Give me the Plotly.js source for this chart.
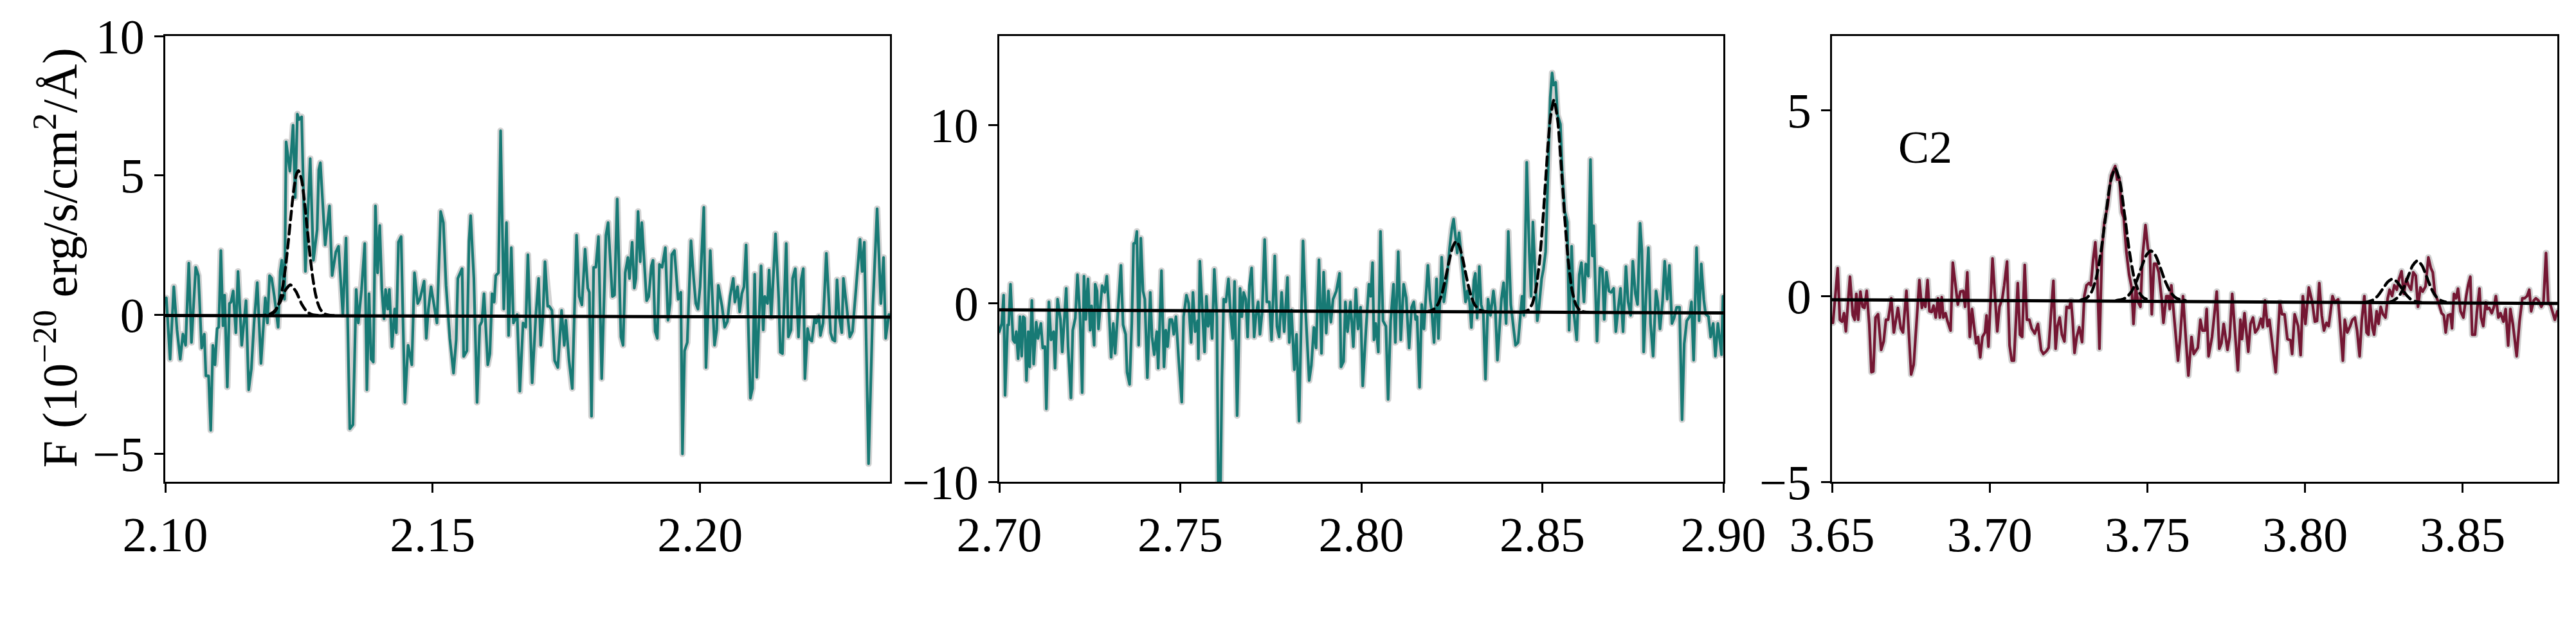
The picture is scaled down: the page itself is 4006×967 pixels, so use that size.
<!DOCTYPE html>
<html>
<head>
<meta charset="utf-8">
<script src="https://cdn.plot.ly/plotly-3.0.1.min.js"></script>
<style>
  html, body { margin: 0; padding: 0; background: #fff; }
  #chart { width: 4006px; height: 967px; }
  .js-plotly-plot .scatterlayer path.js-line { stroke-linejoin: round !important; stroke-linecap: round; }
</style>
</head>
<body>
<div id="chart"></div>
<script>
// ---------------- DATA ----------------
// Panel 1 spectrum [wavelength (um), flux]
const spec1 = [
[2.1002,0.6],[2.1009,-1.6],[2.1016,1.0],[2.1022,-0.55],[2.1028,-1.6],[2.1033,-0.7],[2.1038,-1.1],[2.1044,1.85],[2.1049,-1.0],[2.1057,1.7],
[2.1062,1.4],[2.1068,-1.2],[2.1073,-0.7],[2.1076,-2.2],[2.1081,-2.2],[2.1085,-4.15],[2.1089,-1.1],[2.1093,-1.8],[2.1097,-0.5],[2.1100,-0.45],
[2.1104,2.3],[2.1108,-0.4],[2.1111,0.7],[2.1116,-2.6],[2.1120,0.4],[2.1123,0.45],[2.1127,0.85],[2.1132,-0.65],[2.1136,1.55],[2.1143,-1.1],
[2.1151,0.5],[2.1156,-2.7],[2.1161,-1.95],[2.1166,-0.3],[2.1172,1.15],[2.1179,-1.75],[2.1187,0.6],[2.1191,-0.3],[2.1195,1.4],[2.1199,1.3],
[2.1204,0.65],[2.1211,-0.45],[2.1215,1.55],[2.1218,1.95],[2.1223,0.55],[2.1226,6.2],[2.1233,5.15],[2.1239,6.8],[2.1243,4.2],[2.1247,7.2],
[2.1250,7.0],[2.1255,7.1],[2.1262,1.55],[2.1271,5.6],[2.1277,1.95],[2.1284,3.05],[2.1287,5.2],[2.1290,5.45],[2.1299,2.5],[2.1307,3.9],
[2.1312,1.4],[2.1319,2.25],[2.1324,2.45],[2.1332,0.0],[2.1338,2.75],[2.1345,-4.1],[2.1351,-3.95],[2.1357,0.9],[2.1361,-0.3],[2.1367,0.9],
[2.1373,2.55],[2.1377,-2.7],[2.1381,0.75],[2.1385,-1.6],[2.1389,-1.7],[2.1393,3.9],[2.1397,1.5],[2.1401,3.2],[2.1405,0.9],[2.1409,-0.15],
[2.1412,0.9],[2.1416,0.2],[2.1419,0.9],[2.1424,-1.15],[2.1429,0.2],[2.1432,-0.65],[2.1436,2.6],[2.1441,2.8],[2.1448,-3.15],[2.1454,-1.1],
[2.1461,-1.8],[2.1466,1.5],[2.1472,0.4],[2.1476,0.55],[2.1481,0.95],[2.1484,1.2],[2.1488,-0.85],[2.1492,0.2],[2.1497,1.0],[2.1501,0.55],
[2.1508,-0.3],[2.1515,3.7],[2.1520,3.3],[2.1525,1.05],[2.1532,-0.85],[2.1539,-2.1],[2.1544,-0.9],[2.1547,1.3],[2.1555,1.65],[2.1558,-1.5],
[2.1564,-1.3],[2.1568,2.65],[2.1571,3.55],[2.1577,1.3],[2.1583,-3.15],[2.1588,-0.4],[2.1592,-0.25],[2.1596,0.75],[2.1603,-1.8],[2.1607,-1.4],
[2.1611,0.75],[2.1615,0.45],[2.1618,1.4],[2.1623,1.5],[2.1627,6.6],[2.1633,0.2],[2.1638,3.3],[2.1642,-0.75],[2.1647,2.4],[2.1651,-0.3],
[2.1658,0.0],[2.1663,-2.75],[2.1669,-0.3],[2.1674,-0.45],[2.1678,2.15],
[2.1686,-2.45],[2.1693,0.0],[2.1698,1.3],[2.1702,-1.1],[2.1706,-0.1],[2.1710,1.9],[2.1715,0.3],[2.1718,0.3],[2.1723,0.15],[2.1728,-1.65],
[2.1734,-1.9],[2.1741,0.15],[2.1746,-1.1],[2.1749,-0.2],[2.1755,-1.65],[2.1761,-2.65],[2.1769,2.85],[2.1774,0.65],[2.1779,0.35],[2.1785,2.35],
[2.1790,0.95],[2.1793,0.8],[2.1797,-3.65],[2.1801,1.7],[2.1805,1.7],[2.1810,2.8],[2.1816,-2.3],[2.1824,2.85],[2.1828,3.3],[2.1836,0.65],
[2.1840,0.7],[2.1845,4.15],[2.1852,-0.8],[2.1856,-1.1],[2.1860,1.5],[2.1865,2.05],[2.1868,1.3],[2.1873,2.6],[2.1877,0.95],[2.1880,1.3],
[2.1884,3.7],[2.1888,1.9],[2.1891,3.3],[2.1895,2.2],[2.1900,0.5],[2.1904,0.65],[2.1909,1.75],[2.1912,1.95],[2.1916,-0.6],[2.1920,-0.85],
[2.1924,1.8],[2.1929,1.7],[2.1935,2.4],[2.1940,-0.2],[2.1944,0.4],[2.1947,2.15],[2.1952,2.3],[2.1959,0.55],[2.1964,0.8],[2.1967,-5.0],
[2.1971,-1.3],[2.1976,-1.0],[2.1983,2.65],[2.1988,1.3],[2.1992,0.4],[2.1996,0.2],[2.2000,1.0],[2.2007,3.85],[2.2011,-1.9],[2.2019,2.3],
[2.2027,-1.1],[2.2031,-0.55],[2.2034,1.05],[2.2041,0.3],[2.2046,-0.45],[2.2051,-0.25],[2.2056,0.65],[2.2062,1.3],[2.2065,0.45],[2.2070,1.0],
[2.2074,0.1],[2.2078,0.75],[2.2082,1.0],[2.2086,2.5],[2.2094,-3.0],[2.2098,-2.65],[2.2102,1.45],[2.2106,-2.25],[2.2114,1.75],[2.2118,-0.55],
[2.2121,0.65],[2.2126,0.4],[2.2129,1.6],[2.2133,-0.1],[2.2141,2.9],[2.2147,0.6],[2.2150,-1.35],[2.2154,-1.4],[2.2161,2.55],[2.2165,-0.8],
[2.2170,-0.55],[2.2173,1.3],[2.2178,1.65],[2.2184,-0.8],[2.2189,1.25],[2.2193,1.65],[2.2196,-2.3],[2.2201,-0.5],[2.2205,-0.9],[2.2209,-0.95],
[2.2214,-0.15],[2.2217,-0.3],[2.2222,-0.05],[2.2225,-0.75],[2.2230,-0.3],[2.2236,2.2],[2.2244,-0.65],[2.2248,-0.9],[2.2252,-0.95],[2.2256,1.25],
[2.2260,-0.05],[2.2265,-0.65],[2.2268,1.3],[2.2274,0.3],[2.2280,-0.8],[2.2285,-0.6],[2.2292,0.95],[2.2299,2.7],[2.2303,1.55],[2.2307,2.6],
[2.2315,-5.35],[2.2323,0.3],[2.2331,3.8],[2.2338,0.4],[2.2343,2.05],[2.2347,-0.85],[2.2353,0.0]
];

// Panel 2 spectrum
const spec2 = [
[2.7000,-1.58],[2.7007,-1.12],[2.7012,0.47],[2.7016,-5.15],[2.7023,-1.2],[2.7026,-1.2],[2.7031,1.08],[2.7038,-2.04],[2.7043,-2.19],[2.7047,-1.58],
[2.7052,-3.1],[2.7057,-0.74],[2.7062,-2.95],[2.7066,-0.74],[2.7070,-0.82],[2.7075,-4.32],[2.7080,-1.58],[2.7084,-3.56],[2.7090,0.17],[2.7095,-3.4],
[2.7102,-1.05],[2.7107,-1.96],[2.7115,-1.12],[2.7120,-2.49],[2.7126,-2.42],[2.7130,-5.91],[2.7137,0.09],[2.7143,-2.04],[2.7150,-1.58],[2.7154,-3.63],
[2.7161,0.24],[2.7169,-0.9],[2.7174,-2.72],[2.7185,0.85],[2.7190,-2.42],[2.7198,-5.3],[2.7203,-1.5],[2.7210,-0.82],[2.7216,1.61],[2.7223,-0.67],
[2.7229,-5.0],[2.7234,1.53],[2.7239,-0.9],[2.7245,1.38],[2.7251,-1.5],[2.7255,-0.14],[2.7262,-2.34],[2.7265,1.08],[2.7270,0.7],[2.7274,-1.43],
[2.7284,1.0],[2.7291,0.62],[2.7297,1.53],[2.7302,-0.06],[2.7309,-3.02],[2.7315,-1.12],[2.7320,-2.8],[2.7329,-0.06],[2.7336,2.14],[2.7342,-1.2],
[2.7349,-1.73],[2.7353,-3.86],[2.7360,-4.54],[2.7366,-1.12],[2.7371,3.36],[2.7376,3.43],[2.7380,4.04],[2.7385,-2.34],[2.7391,3.66],[2.7397,0.7],
[2.7402,0.24],[2.7409,-4.16],[2.7417,0.62],[2.7422,-1.88],[2.7428,-2.87],[2.7435,-1.58],[2.7439,-3.63],[2.7448,1.84],[2.7455,-3.56],[2.7460,-1.5],
[2.7465,-2.42],[2.7471,-0.9],[2.7477,-0.9],[2.7482,-1.73],[2.7488,-0.74],[2.7495,-2.95],[2.7504,-5.53],[2.7509,-0.74],[2.7517,0.47],[2.7523,0.02],
[2.7530,-2.19],[2.7535,0.62],[2.7541,-1.58],[2.7548,-0.97],[2.7550,-3.1],[2.7554,2.37],[2.7561,-0.67],[2.7567,-2.72],[2.7572,0.4],[2.7577,-1.28],
[2.7583,-0.44],[2.7588,-1.96],[2.7594,1.91],[2.7601,-0.74],[2.7605,-10.5],[2.7611,-10.5],[2.7615,-4.24],[2.7620,0.24],[2.7626,0.09],[2.7633,1.38],
[2.7639,-0.67],[2.7645,-1.96],[2.7650,1.23],[2.7657,-6.29],[2.7665,0.85],[2.7670,-0.74],[2.7675,0.62],[2.7681,0.24],[2.7686,-1.88],[2.7691,1.0],
[2.7697,1.99],[2.7704,-1.88],[2.7709,-0.67],[2.7715,0.09],[2.7720,-1.73],[2.7726,-0.52],[2.7733,3.59],[2.7739,0.09],[2.7746,0.09],[2.7752,-2.04],
[2.7761,2.67],[2.7767,-1.28],[2.7773,-1.88],[2.7780,0.62],[2.7787,-1.58],[2.7796,1.46],[2.7801,-2.19],[2.7807,-0.36],[2.7815,-3.71],[2.7821,-1.73],
[2.7828,-6.6],[2.7834,-0.67],[2.7839,3.51],[2.7846,-0.36],[2.7851,-2.19],[2.7856,-4.32],[2.7862,-3.48],[2.7869,-1.35],[2.7875,-2.49],[2.7883,2.45],
[2.7890,-2.8],[2.7896,1.76],[2.7903,-1.66],[2.7909,0.7],[2.7916,-1.05],[2.7922,0.24],[2.7931,0.7],[2.7940,1.69],[2.7944,-3.56],[2.7951,-3.25],
[2.7956,0.09],[2.7962,-1.58],[2.7970,0.09],[2.7978,-2.42],[2.7985,0.78],[2.7991,-1.43],[2.7998,-0.21],[2.8004,-4.62],
[2.8013,-1.43],[2.8021,1.08],[2.8026,0.4],[2.8031,2.29],[2.8035,-2.04],[2.8040,-1.12],[2.8047,-2.72],[2.8053,4.04],[2.8060,-0.97],[2.8068,-1.28],
[2.8074,-5.38],[2.8081,-0.97],[2.8089,1.08],[2.8094,-2.19],[2.8102,2.9],[2.8109,-2.04],[2.8117,1.08],[2.8124,0.32],[2.8132,-2.49],[2.8139,-0.21],
[2.8145,0.09],[2.8150,-0.9],[2.8154,-0.74],[2.8161,-4.7],[2.8167,-0.06],[2.8173,-1.43],[2.8177,-0.06],[2.8184,2.14],[2.8190,0.24],[2.8195,-0.52],
[2.8201,-2.19],[2.8208,1.38],[2.8213,-1.96],[2.8222,2.6],[2.8228,0.09],[2.8236,1.31],[2.8244,3.13],[2.8250,4.19],[2.8255,4.73],[2.8261,3.43],
[2.8265,2.83],[2.8270,3.97],[2.8276,2.83],[2.8283,1.16],[2.8288,0.09],[2.8293,0.7],[2.8299,0.09],[2.8304,-1.35],[2.8311,1.31],[2.8315,1.69],
[2.8320,-0.82],[2.8326,2.07],[2.8331,-0.06],[2.8337,-0.52],[2.8343,-4.24],[2.8350,0.24],[2.8357,-0.67],[2.8365,0.7],[2.8370,-0.21],[2.8376,-3.18],
[2.8387,0.24],[2.8393,1.16],[2.8400,-1.12],[2.8406,4.04],[2.8413,-0.06],[2.8419,-1.12],[2.8426,-2.34],[2.8433,-2.19],[2.8439,-0.9],[2.8444,0.4],
[2.8449,-0.67],[2.8457,7.92],[2.8464,2.9],[2.8469,0.4],[2.8474,4.57],[2.8481,0.85],[2.8486,-0.97],[2.8491,-0.21],[2.8498,1.38],[2.8503,1.91],
[2.8509,2.9],[2.8516,7.39],[2.8522,11.57],[2.8527,12.93],[2.8531,12.25],[2.8537,12.4],[2.8542,10.58],[2.8550,10.05],[2.8555,7.39],[2.8562,5.18],
[2.8569,4.57],[2.8574,-1.5],[2.8581,3.21],[2.8587,-0.52],[2.8595,-2.04],[2.8602,1.61],[2.8608,2.29],[2.8615,0.09],[2.8620,2.22],[2.8627,1.53],
[2.8633,8.07],[2.8638,2.67],[2.8642,4.35],[2.8646,1.31],[2.8651,-2.11],[2.8659,1.99],[2.8666,1.91],[2.8671,-0.9],[2.8677,1.76],[2.8684,0.7],
[2.8690,0.62],[2.8697,0.85],[2.8703,-1.58],[2.8710,-0.21],[2.8716,0.85],[2.8723,-1.58],[2.8731,2.07],[2.8737,0.09],[2.8744,-0.67],[2.8750,2.37],
[2.8757,0.55],[2.8763,-0.06],[2.8770,4.5],[2.8775,2.98],[2.8780,-2.72],[2.8786,0.17],[2.8793,3.13],[2.8799,-1.12],[2.8806,-2.95],[2.8814,0.7],
[2.8819,0.09],[2.8825,-1.43],[2.8832,0.09],[2.8838,2.37],[2.8845,0.24],[2.8851,2.14],[2.8858,-1.12],[2.8864,-0.82],[2.8871,-0.21],[2.8879,-0.21],
[2.8886,-6.52],[2.8892,-2.26],[2.8899,-0.97],[2.8907,-0.74],[2.8912,0.09],[2.8918,-3.18],[2.8926,3.13],[2.8933,-0.97],[2.8939,2.22],[2.8946,0.24],
[2.8951,-0.59],[2.8959,-0.74],[2.8965,-1.88],[2.8972,-1.12],[2.8978,-2.95],[2.8985,-1.12],[2.8995,-2.87],[2.8999,0.4]
];

// Panel 3 spectrum
const spec3 = [
[3.6503,-0.72],[3.6518,0.75],[3.6525,-0.64],[3.6532,-0.69],[3.6538,-0.46],[3.6544,-0.95],[3.6557,0.52],[3.6566,-0.52],[3.6572,-0.64],[3.6577,0.06],
[3.6583,-0.64],[3.6590,0.12],[3.6597,-0.29],[3.6603,-0.32],[3.6610,0.14],[3.6618,-0.75],[3.6625,-2.05],[3.6631,-2.03],[3.6638,-0.58],[3.6646,-0.49],
[3.6656,-1.45],[3.6664,-1.22],[3.6671,-0.64],[3.6678,-0.64],[3.6688,-0.06],[3.6696,-0.98],[3.6703,-0.64],[3.6709,-0.32],[3.6718,-0.87],[3.6725,-0.98],
[3.6736,0.14],[3.6751,-2.11],[3.6759,-1.85],[3.6767,-0.75],[3.6777,0.43],[3.6785,-0.32],[3.6790,-0.09],[3.6796,-0.29],[3.6803,0.43],[3.6809,-0.41],
[3.6816,-0.43],[3.6822,-0.26],[3.6829,-0.58],[3.6836,-0.06],[3.6842,-0.58],[3.6848,-0.03],[3.6853,-0.58],[3.6860,-0.46],[3.6866,-0.67],[3.6876,-0.93],
[3.6883,0.9],[3.6899,-0.23],[3.6907,0.12],[3.6916,0.14],[3.6922,-0.29],[3.6929,0.64],[3.6937,-1.1],[3.6944,-0.35],[3.6950,-0.81],[3.6957,-1.27],
[3.6963,-1.1],[3.6970,-1.65],[3.6977,-1.1],[3.6985,-0.98],[3.6990,-0.52],[3.6996,-1.36],[3.7009,1.01],[3.7018,-0.35],[3.7024,-0.95],[3.7031,-0.29],
[3.7040,-0.06],[3.7046,0.29],[3.7055,0.93],[3.7063,-1.33],[3.7070,-1.74],[3.7077,-1.74],[3.7089,0.35],[3.7096,-1.04],[3.7103,-1.1],[3.7111,0.84],
[3.7118,-0.64],[3.7126,-0.64],[3.7133,-0.87],[3.7143,-1.01],[3.7153,-0.75],[3.7163,-1.45],[3.7170,-1.56],[3.7180,-1.48],[3.7187,-1.39],[3.7195,-0.41],
[3.7202,0.41],[3.7209,-1.42],[3.7215,-0.81],[3.7222,-0.58],[3.7229,-1.04],[3.7237,-1.22],[3.7244,-0.29],[3.7252,-0.32],[3.7258,-0.12],[3.7263,-0.64],
[3.7269,-1.53],[3.7276,-1.1],[3.7284,-0.84],[3.7293,-1.24],[3.7300,0.0],[3.7307,0.29],[3.7315,0.35],[3.7321,0.29],[3.7328,0.98],[3.7335,1.45],
[3.7341,0.58],[3.7348,-1.42],[3.7356,1.22],[3.7363,1.97],[3.7374,2.43],[3.7385,3.24],[3.7393,3.41],[3.7398,3.5],[3.7404,3.13],[3.7411,3.18],
[3.7419,2.26],[3.7425,2.11],[3.7433,1.22],[3.7442,0.58],[3.7450,0.23],[3.7456,-0.75],[3.7463,0.23],[3.7471,-0.17],[3.7478,-0.29],[3.7485,1.1],
[3.7494,1.91],[3.7502,1.27],[3.7508,1.16],[3.7514,-0.49],[3.7521,0.87],[3.7528,0.87],[3.7536,0.64],[3.7545,-0.06],[3.7551,-0.72],[3.7560,0.0],
[3.7567,0.0],[3.7571,-0.35],[3.7576,0.29],[3.7583,-0.46],[3.7597,-1.74],[3.7604,-1.1],[3.7613,0.0],[3.7623,-1.27],[3.7630,-2.14],[3.7640,-1.1],
[3.7647,-1.56],[3.7660,-1.39],[3.7668,-0.64],[3.7675,-0.93],[3.7683,-0.93],[3.7688,-0.35],[3.7694,-1.62],[3.7705,-1.1],[3.7720,0.12],[3.7728,-1.42],
[3.7735,-1.27],[3.7742,-0.75],[3.7754,-1.45],[3.7761,-1.1],[3.7769,0.06],[3.7780,-1.22],[3.7787,-2.0],[3.7795,-0.64],[3.7800,-1.16],[3.7808,-0.46],
[3.7820,-1.5],[3.7827,-0.75],[3.7835,-0.58],[3.7842,-0.98],[3.7851,-0.87],[3.7860,-0.61],[3.7866,-0.84],[3.7873,-0.12],[3.7881,-0.81],[3.7887,-0.64],
[3.7896,-1.33],[3.7907,-2.05],[3.7920,-0.17],[3.7927,-0.49],[3.7935,-0.49],[3.7944,-1.16],[3.7954,-1.19],[3.7959,-1.56],[3.7967,-0.49],[3.7978,-0.81],
[3.7986,-1.59],[3.7993,0.0],[3.8001,-0.75],[3.8012,0.23],[3.8023,-0.17],[3.8031,-0.69],[3.8038,-0.67],[3.8045,0.35],[3.8053,-0.52],[3.8060,-0.93],
[3.8068,-0.72],[3.8075,-0.81],[3.8087,0.0],[3.8094,-0.17],[3.8105,-0.09],[3.8113,-0.98],[3.8120,-1.74],[3.8126,-0.64],[3.8134,-0.98],[3.8143,-0.81],
[3.8150,-0.64],[3.8158,-0.58],[3.8165,-0.93],[3.8173,-1.62],[3.8180,-0.64],[3.8188,0.0],[3.8195,-0.98],[3.8201,-1.04],[3.8206,-0.17],[3.8214,-0.87],
[3.8219,-1.04],[3.8227,-0.41],[3.8233,-0.75],[3.8240,-0.29],[3.8247,-0.49],[3.8255,-0.58],[3.8262,-0.06],[3.8268,0.17],[3.8276,0.0],[3.8283,0.29],
[3.8291,0.17],[3.8298,0.46],[3.8306,0.67],[3.8313,0.06],[3.8321,0.46],[3.8328,0.29],[3.8336,0.17],[3.8343,0.64],[3.8351,0.55],[3.8358,-0.29],
[3.8366,0.23],[3.8373,0.12],[3.8382,0.26],[3.8391,1.04],[3.8399,0.75],[3.8405,0.64],[3.8412,0.06],[3.8423,-0.17],[3.8433,-0.46],[3.8440,-0.52],
[3.8446,-0.98],[3.8453,-0.52],[3.8461,-0.49],[3.8466,-0.87],[3.8472,0.06],[3.8479,-0.06],[3.8485,0.2],[3.8493,-0.41],[3.8502,-0.58],[3.8511,0.0],
[3.8517,0.29],[3.8524,0.52],[3.8530,-1.04],[3.8539,-1.04],[3.8545,-0.41],[3.8553,0.2],[3.8558,-0.58],[3.8565,-0.81],[3.8573,-0.17],[3.8578,-0.35],
[3.8584,-0.32],[3.8592,-0.46],[3.8599,-0.29],[3.8605,0.0],[3.8613,-0.58],[3.8620,-0.46],[3.8629,-0.69],[3.8636,-0.35],[3.8644,-1.33],[3.8651,-0.35],
[3.8659,-0.75],[3.8671,-1.62],[3.8680,-0.69],[3.8689,-0.06],[3.8696,-0.06],[3.8704,0.0],[3.8711,0.17],[3.8717,-0.41],[3.8725,-0.12],[3.8732,-0.06],
[3.8740,-0.12],[3.8749,-0.29],[3.8756,-0.17],[3.8764,1.16],[3.8771,-0.17],[3.8779,-0.26],[3.8786,-0.46],[3.8792,-0.64],[3.8800,-0.41]
];

// Continuum levels [wavelength, flux]
const cont1 = [[2.100,-0.03],[2.2355,-0.09]];
const cont2 = [[2.700,-0.36],[2.900,-0.53]];
const cont3 = [[3.650,-0.10],[3.880,-0.20]];

// Fitted line components (dashed)
const model1a = [[2.1170,-0.03],[2.1180,-0.03],[2.1190,-0.02],[2.1200,0.03],[2.1205,0.11],[2.1210,0.27],[2.1215,0.56],[2.1220,1.04],[2.1225,1.73],[2.1230,2.60],[2.1235,3.56],[2.1240,4.44],[2.1245,5.02],[2.1249,5.17],[2.1255,4.83],[2.1260,4.11],[2.1265,3.18],[2.1270,2.24],[2.1275,1.43],[2.1280,0.82],[2.1285,0.42],[2.1290,0.19],[2.1295,0.07],[2.1300,0.01],[2.1310,-0.03],[2.1320,-0.03]];
const model1b = [[2.1170,-0.03],[2.1180,-0.03],[2.1195,0.01],[2.1205,0.14],[2.1215,0.46],[2.1225,0.89],[2.1234,1.07],[2.1245,0.81],[2.1255,0.38],[2.1265,0.10],[2.1275,0.00],[2.1290,-0.03],[2.1310,-0.03]];
const model2a = [[2.8177,-0.46],[2.8192,-0.41],[2.8202,-0.29],[2.8212,-0.03],[2.8222,0.50],[2.8232,1.33],[2.8242,2.32],[2.8252,3.15],[2.8262,3.49],[2.8272,3.15],[2.8282,2.32],[2.8292,1.33],[2.8302,0.50],[2.8312,-0.03],[2.8322,-0.29],[2.8332,-0.41],[2.8347,-0.46]];
const model2b = [[2.8437,-0.49],[2.8452,-0.45],[2.8462,-0.35],[2.8472,-0.03],[2.8482,0.75],[2.8492,2.31],[2.8502,4.78],[2.8512,7.79],[2.8522,10.37],[2.8532,11.41],[2.8542,10.37],[2.8552,7.79],[2.8562,4.78],[2.8572,2.31],[2.8582,0.75],[2.8592,-0.03],[2.8602,-0.35],[2.8612,-0.45],[2.8627,-0.49]];
const model3a = [[3.7288,-0.11],[3.7308,-0.05],[3.7323,0.11],[3.7338,0.49],[3.7353,1.20],[3.7368,2.17],[3.7383,3.07],[3.7398,3.44],[3.7413,3.07],[3.7428,2.17],[3.7443,1.20],[3.7458,0.49],[3.7473,0.11],[3.7488,-0.05],[3.7508,-0.11]];
const model3b = [[3.7401,-0.12],[3.7421,-0.09],[3.7436,-0.02],[3.7451,0.14],[3.7466,0.41],[3.7481,0.77],[3.7496,1.09],[3.7511,1.22],[3.7526,1.09],[3.7541,0.77],[3.7556,0.41],[3.7571,0.14],[3.7586,-0.02],[3.7601,-0.09],[3.7621,-0.12]];
const model3c = [[3.8187,-0.17],[3.8202,-0.15],[3.8217,-0.10],[3.8232,0.02],[3.8247,0.20],[3.8262,0.38],[3.8277,0.46],[3.8292,0.38],[3.8307,0.20],[3.8322,0.02],[3.8337,-0.10],[3.8352,-0.15],[3.8367,-0.17]];
const model3d = [[3.8266,-0.17],[3.8281,-0.12],[3.8296,-0.02],[3.8311,0.19],[3.8326,0.51],[3.8341,0.82],[3.8356,0.95],[3.8371,0.82],[3.8386,0.51],[3.8401,0.19],[3.8416,-0.02],[3.8431,-0.12],[3.8446,-0.16]];

// Axis settings (data)
const xRanges = [[2.10, 2.2355], [2.70, 2.90], [3.65, 3.88]];
const yRanges = [[-6, 10], [-10, 15], [-5, 7]];
const xTicks = [[2.10, 2.15, 2.20], [2.70, 2.75, 2.80, 2.85, 2.90], [3.65, 3.70, 3.75, 3.80, 3.85]];
const yTicks = [[-5, 0, 5, 10], [-10, 0, 10], [-5, 0, 5]];
const panelLabel = 'C2';
const yTitle = 'F (10<sup>\u221220</sup> erg/s/cm<sup>2</sup>/\u00c5)';

// ---------------- STYLE ----------------
const TEAL = '#187a75';
const MAROON = '#741733';
const GREY = '#d2d2d2';
const FONT = 'Liberation Serif';

const xs = a => a.map(p => p[0]);
const ys = a => a.map(p => p[1]);

const traces = [];
function addSpec(spec, color, ax) {
  traces.push({x: xs(spec), y: ys(spec), xaxis: 'x' + ax, yaxis: 'y' + ax, mode: 'lines',
    line: {color: GREY, width: 10}, hoverinfo: 'skip', showlegend: false});
  traces.push({x: xs(spec), y: ys(spec), xaxis: 'x' + ax, yaxis: 'y' + ax, mode: 'lines',
    line: {color: color, width: 4.2}, showlegend: false});
}
function addCont(c, ax) {
  traces.push({x: xs(c), y: ys(c), xaxis: 'x' + ax, yaxis: 'y' + ax, mode: 'lines',
    line: {color: '#000', width: 5}, showlegend: false});
}
function addModel(m, ax) {
  traces.push({x: xs(m), y: ys(m), xaxis: 'x' + ax, yaxis: 'y' + ax, mode: 'lines',
    line: {color: '#000', width: 4.5, dash: '14px,8px', shape: 'spline', smoothing: 0.6}, showlegend: false});
}
addSpec(spec1, TEAL, '');
addSpec(spec2, TEAL, '2');
addSpec(spec3, MAROON, '3');
addCont(cont1, ''); addCont(cont2, '2'); addCont(cont3, '3');
addModel(model1a, ''); addModel(model1b, '');
addModel(model2a, '2'); addModel(model2b, '2');
addModel(model3a, '3'); addModel(model3b, '3'); addModel(model3c, '3'); addModel(model3d, '3');

const W = 4006, H = 967;
const xDom = [[257 / W, 1384 / W], [1554 / W, 2680 / W], [2849 / W, 3977 / W]];
const yDom = [(H - 749) / H, (H - 56) / H];
const TICKSIZE = 76;

function xaxis(i) {
  return {domain: xDom[i], range: xRanges[i], tickvals: xTicks[i], tickformat: '.2f',
    showline: true, mirror: true, linecolor: '#000', linewidth: 3,
    ticks: 'outside', ticklen: 14, tickwidth: 3, tickcolor: '#000',
    tickfont: {family: FONT, size: TICKSIZE, color: '#000'},
    showgrid: false, zeroline: false, anchor: i === 0 ? 'y' : 'y' + (i + 1)};
}
function yaxis(i) {
  return {domain: yDom, range: yRanges[i], tickvals: yTicks[i],
    showline: true, mirror: true, linecolor: '#000', linewidth: 3,
    ticks: 'outside', ticklen: 14, tickwidth: 3, tickcolor: '#000',
    tickfont: {family: FONT, size: TICKSIZE, color: '#000'},
    showgrid: false, zeroline: false, anchor: i === 0 ? 'x' : 'x' + (i + 1)};
}

const layout = {
  width: W, height: H,
  margin: {l: 0, r: 0, t: 0, b: 0},
  paper_bgcolor: '#fff', plot_bgcolor: '#fff',
  showlegend: false,
  xaxis: xaxis(0), yaxis: yaxis(0),
  xaxis2: xaxis(1), yaxis2: yaxis(1),
  xaxis3: xaxis(2), yaxis3: yaxis(2),
  annotations: [
    {text: yTitle, xref: 'paper', yref: 'paper', x: 88 / W, y: 0.585, textangle: -90,
     showarrow: false, xanchor: 'center', yanchor: 'middle',
     font: {family: FONT, size: 76, color: '#000'}},
    {text: panelLabel, xref: 'x3', yref: 'y3', x: 3.6705, y: 4.0, showarrow: false,
     xanchor: 'left', yanchor: 'middle', font: {family: FONT, size: 72, color: '#000'}}
  ]
};

Plotly.newPlot('chart', traces, layout, {displayModeBar: false, staticPlot: true});
</script>
</body>
</html>
